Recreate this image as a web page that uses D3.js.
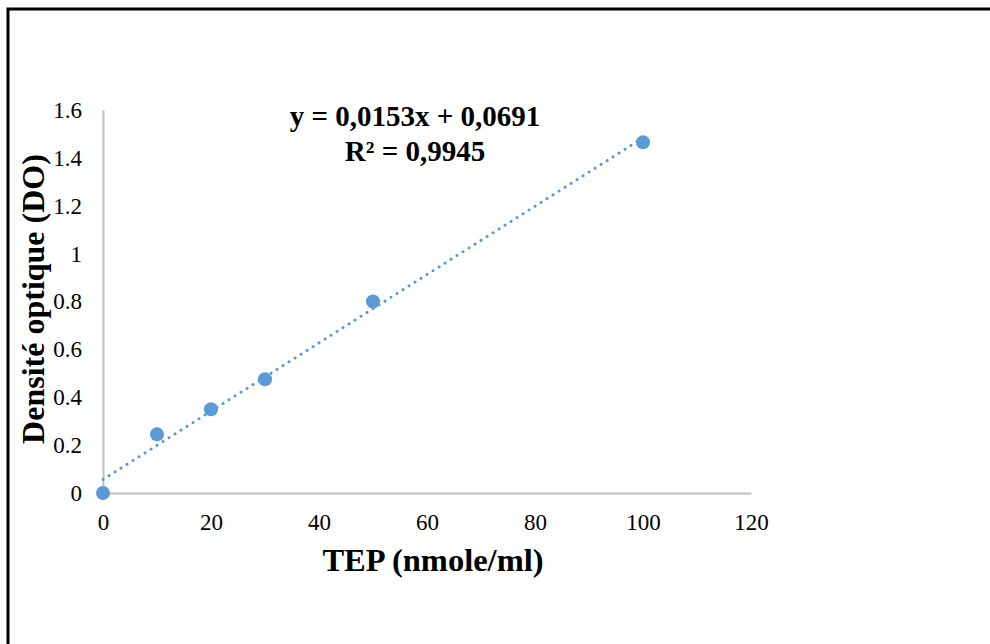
<!DOCTYPE html>
<html>
<head>
<meta charset="utf-8">
<script src="https://cdn.jsdelivr.net/npm/d3@7"></script>
<style>
  body { margin: 0; background: #fff; }
  text { font-family: "Liberation Serif", "Times New Roman", serif; fill: #000; }
</style>
</head>
<body>
<div id="chart-area"></div>
<script>
// DATA
const tep = [0, 10, 20, 30, 50, 100]
const densite = [0, 0.245, 0.35, 0.475, 0.80, 1.465]
const xTicks = [0, 20, 40, 60, 80, 100, 120]
const yTicks = [0, 0.2, 0.4, 0.6, 0.8, 1, 1.2, 1.4, 1.6]
const equationLines = ["y = 0,0153x + 0,0691", "R² = 0,9945"]

const W = 990, H = 644
const MARGIN = { LEFT: 103, RIGHT: 239, TOP: 110, BOTTOM: 151 }
const WIDTH = W - MARGIN.LEFT - MARGIN.RIGHT
const HEIGHT = H - MARGIN.TOP - MARGIN.BOTTOM
const BLUE = "#5b9bd5"
const SERIF = "'Liberation Serif', 'Times New Roman', serif"

// least squares fit of the plotted points (the trendline)
const mx = d3.mean(tep), my = d3.mean(densite)
const slope = d3.sum(tep, (t, i) => (t - mx) * (densite[i] - my)) / d3.sum(tep, t => (t - mx) ** 2)
const intercept = my - slope * mx

const svg = d3.select("#chart-area").append("svg")
  .attr("width", W)
  .attr("height", H)

// outer frame (right and bottom edges are cut off in the picture)
svg.append("path")
  .attr("d", `M8,${H + 5} V9 H${W + 5}`)
  .attr("fill", "none")
  .attr("stroke", "#000")
  .attr("stroke-width", 3)

const g = svg.append("g")
  .attr("transform", `translate(${MARGIN.LEFT}, ${MARGIN.TOP})`)

// SCALES
const x = d3.scaleLinear().domain([0, 120]).range([0, WIDTH])
const y = d3.scaleLinear().domain([0, 1.6]).range([HEIGHT, 0])

// AXES
const xAxisGroup = g.append("g")
  .attr("transform", `translate(0, ${HEIGHT})`)
  .call(d3.axisBottom(x).tickValues(xTicks).tickSize(0).tickPadding(21).tickFormat(d3.format("d")))
xAxisGroup.attr("font-family", SERIF).attr("font-size", 23)
xAxisGroup.select(".domain").attr("stroke", "#bfbfbf").attr("stroke-width", 2)

const yAxisGroup = g.append("g")
  .call(d3.axisLeft(y).tickValues(yTicks).tickSize(0).tickPadding(21).tickFormat(d => String(d)))
yAxisGroup.attr("font-family", SERIF).attr("font-size", 23)
yAxisGroup.select(".domain").attr("stroke", "#bfbfbf").attr("stroke-width", 2)

// TRENDLINE
g.append("line")
  .attr("x1", x(0)).attr("y1", y(intercept))
  .attr("x2", x(100)).attr("y2", y(slope * 100 + intercept))
  .attr("stroke", BLUE)
  .attr("stroke-width", 3)
  .attr("stroke-linecap", "round")
  .attr("stroke-dasharray", "0.1 7")

// POINTS
g.selectAll("circle")
  .data(tep.map((t, i) => ({ t, v: densite[i] })))
  .enter().append("circle")
  .attr("cx", d => x(d.t))
  .attr("cy", d => y(d.v))
  .attr("r", 7)
  .attr("fill", BLUE)

// EQUATION LABEL
g.append("text")
  .attr("text-anchor", "middle")
  .attr("font-weight", "bold")
  .attr("font-size", 29)
  .selectAll("tspan")
  .data(equationLines)
  .enter().append("tspan")
  .attr("x", 312)
  .attr("y", (d, i) => 16 + i * 35)
  .text(d => d)

// AXIS TITLES
svg.append("text")
  .attr("x", 433)
  .attr("y", 571)
  .attr("text-anchor", "middle")
  .attr("font-weight", "bold")
  .attr("font-size", 32.5)
  .text("TEP (nmole/ml)")

svg.append("text")
  .attr("transform", `translate(44, 299) rotate(-90)`)
  .attr("text-anchor", "middle")
  .attr("font-weight", "bold")
  .attr("font-size", 32)
  .text("Densité optique (DO)")
</script>
</body>
</html>
